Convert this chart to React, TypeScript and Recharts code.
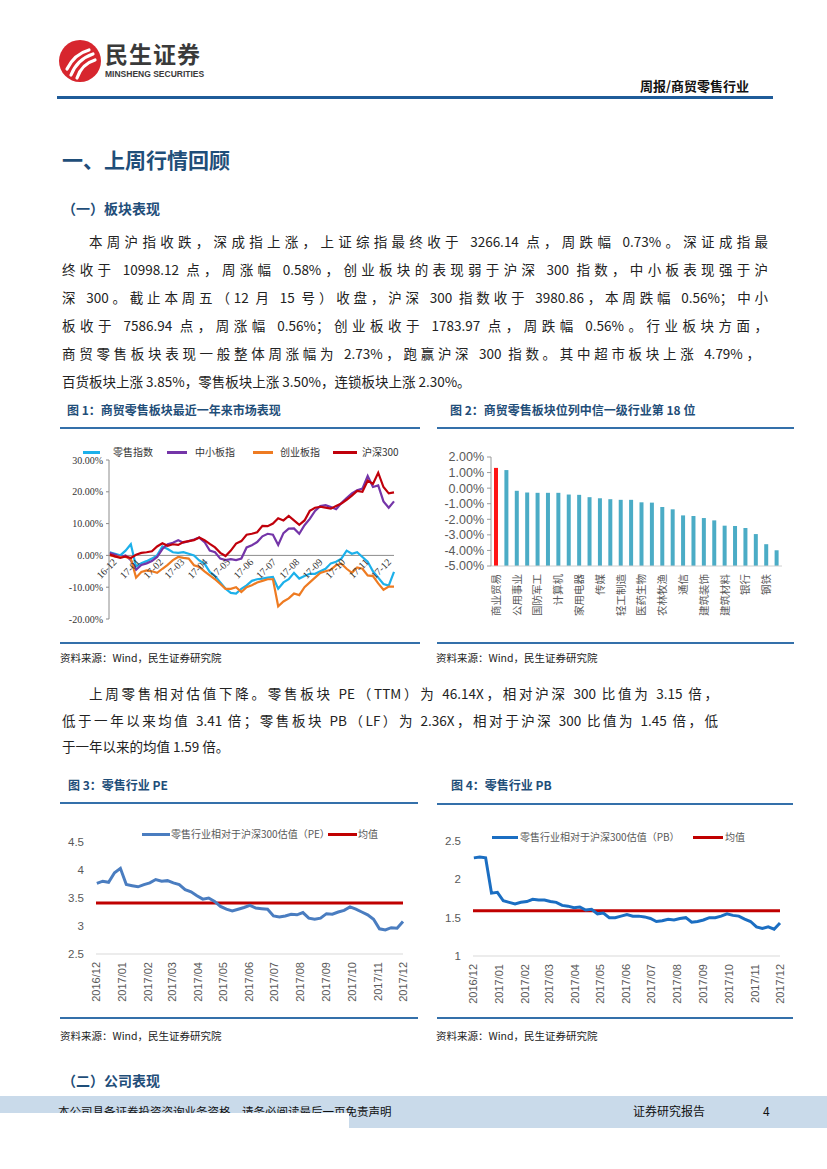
import React from 'react';
import { LineChart, Line, BarChart, Bar, Cell, XAxis, YAxis, ReferenceLine, ReferenceDot } from 'recharts';

const CJK = '"Noto Sans CJK SC", "Noto Sans", sans-serif';
const SERIF = '"Liberation Serif", "Noto Sans CJK SC", serif';
const SANS = '"Liberation Sans", Arial, "Noto Sans CJK SC", sans-serif';
const NAVY = '#1F4E79';
const RULE = '#3470AA';

// ---- 图1: 近一年走势 (weekly closes, % change since 2016-12) ----
const CH1_MONTHS = ['16-12', '17-01', '17-02', '17-03', '17-04', '17-05', '17-06', '17-07', '17-08', '17-09', '17-10', '17-11', '17-12'];
const RETAIL = [
  1.0, 0.5, 0, 1.5, 3.5, -3.5, -2.5, -1.8, -1.0, 0,
  2.8, 2.0, 1.0, 0.8, 1.0, 0.5, 0, -1.6, -2.6, -5.2,
  -6.5, -8.5, -10.5, -11.8, -12.0, -10.5, -9.4, -8.0,
  -7.5, -7.3, -7.0, -6.8, -10.5, -8.5, -7.5, -5.5, -7.3, -6.5,
  -5.8, -5.8, -5.0, -4.2, -2.5, -2.0, -1.0, 1.5, 0.5, 1.0,
  -0.5, -2.0, -5.0, -7.0, -9.0, -9.5, -5.2,
];
const MIDSMALL = [
  0.8, 0.3, -0.5, 0, -1.5, -4.5, -3.0, -2.5, -1.8, -0.5,
  2.0, 3.5, 4.0, 4.8, 4.0, 4.5, 5.0, 5.6, 4.2, 1.5,
  1.0, -1.0, -1.5, -1.2, -1.5, -1.0, 2.5, 3.2,
  4.2, 6.0, 6.8, 6.5, 3.3, 7.0, 8.4, 8.5, 6.8, 9.5,
  11.5, 14.0, 15.5, 15.8, 15.2, 14.5, 16.5, 18.0, 19.5, 20.5,
  21.0, 25.0, 21.5, 22.0, 17.0, 15.0, 17.0,
];
const CHINEXT = [
  0, -0.3, -0.5, -0.5, -1.0, -7.0, -5.2, -4.7, -5.0, -5.5,
  -4.2, -3.0, -1.5, -0.5, -0.8, -1.0, -3.1, -3.6, -5.0, -6.3,
  -7.5, -9.0, -10.5, -10.5, -10.0, -11.5, -10.0, -9.4,
  -8.5, -8.0, -7.5, -7.5, -16.0, -14.5, -13.5, -12.0, -12.5, -10.0,
  -8.5, -7.0, -5.5, -5.0, -4.5, -3.1, -2.6, -4.2, -5.5, -3.8,
  -4.2, -6.3, -6.5, -8.8, -10.8, -9.8, -9.8,
];
const HS300 = [
  0.3, -0.3, -0.8, -0.3, -0.8, 0.2, 0.8, 1.0, 1.3, 2.8,
  3.8, 3.0, 3.5, 3.3, 4.2, 4.5, 4.8, 5.6, 4.8, 3.6,
  2.5, 0.8, -0.2, 1.5, 3.7, 4.5, 6.5, 6.8,
  7.3, 9.3, 9.2, 10.0, 11.7, 11.0, 12.4, 11.0, 9.6, 11.0,
  14.0, 15.0, 15.3, 15.0, 14.7, 15.5, 16.3, 17.5, 18.8, 20.3,
  20.0, 23.5, 22.5, 26.0, 21.5, 19.5, 19.8,
];

// ---- 图2: 行业周涨跌幅 (%) ----
const IND_LABELS = [
  '商业贸易', '', '公用事业', '', '国防军工', '', '计算机', '', '家用电器', '', '传媒', '', '轻工制造', '',
  '医药生物', '', '农林牧渔', '', '通信', '', '建筑装饰', '', '建筑材料', '', '银行', '', '钢铁', '',
];
const IND_CHANGE = [
  1.30, 1.16, -0.17, -0.28, -0.30, -0.30, -0.30, -0.41, -0.43, -0.58, -0.65, -0.71, -0.75, -0.75,
  -0.91, -0.93, -1.21, -1.36, -1.75, -1.79, -1.92, -2.07, -2.41, -2.43, -2.56, -2.95, -3.60, -3.99,
];
const IND_FLOOR = -5; // bars rise from the axis minimum, as in the Excel original

// ---- 图3 / 图4: 相对沪深300估值 (weekly) ----
const VAL_MONTHS = ['2016/12', '2017/01', '2017/02', '2017/03', '2017/04', '2017/05', '2017/06', '2017/07', '2017/08', '2017/09', '2017/10', '2017/11', '2017/12'];
const PE_REL = [
  3.76, 3.80, 3.78, 3.95, 4.03, 3.74, 3.72, 3.70, 3.74, 3.77, 3.83, 3.80, 3.81,
  3.77, 3.74, 3.65, 3.61, 3.54, 3.48, 3.50, 3.44, 3.35, 3.30, 3.27, 3.30, 3.33, 3.37,
  3.32, 3.31, 3.30, 3.18, 3.16, 3.18, 3.21, 3.20, 3.24, 3.14, 3.12, 3.14,
  3.22, 3.21, 3.25, 3.28, 3.34, 3.30, 3.25, 3.20, 3.12, 2.95, 2.93, 2.97, 2.96, 3.08,
];
const PE_MEAN = 3.41;
const PB_REL = [
  2.28, 2.29, 2.28, 1.82, 1.83, 1.72, 1.70, 1.68, 1.70, 1.71, 1.74, 1.73, 1.73,
  1.71, 1.70, 1.66, 1.65, 1.63, 1.64, 1.60, 1.61, 1.55, 1.56, 1.50, 1.50, 1.52, 1.54,
  1.52, 1.52, 1.51, 1.49, 1.45, 1.46, 1.48, 1.47, 1.49, 1.50, 1.44, 1.45,
  1.47, 1.50, 1.50, 1.52, 1.55, 1.53, 1.52, 1.48, 1.45, 1.38, 1.36, 1.38, 1.35, 1.43,
];
const PB_MEAN = 1.59;

// weekly Fridays starting 2016-12-02
const fridays = (n: number) => Array.from({ length: n }, (_, i) => Date.UTC(2016, 11, 2 + 7 * i));
const monthStarts = (n: number) => Array.from({ length: n }, (_, k) => Date.UTC(2016, 11 + k, 1));

function Txt({ x, y, size = 13, weight = 400, color = '#222', font = CJK, children, style }: any) {
  return (
    <div
      style={{
        position: 'absolute', left: x, top: y - size * 0.6, lineHeight: `${size * 1.2}px`,
        fontSize: size, fontWeight: weight, color, fontFamily: font, whiteSpace: 'nowrap', ...style,
      }}
    >
      {children}
    </div>
  );
}

function Rule({ x, y, w, h = 2, color = RULE }: any) {
  return <div style={{ position: 'absolute', left: x, top: y - h / 2, width: w, height: h, background: color }} />;
}

function ParaLine({ x, y, right, last, children }: any) {
  return (
    <div
      lang="zh"
      style={{
        position: 'absolute', left: x, top: y - 10, width: right - x, lineHeight: '20px', fontSize: 13.5,
        fontFamily: CJK, color: '#222', whiteSpace: 'nowrap', textAlign: 'justify',
        textAlignLast: last ? 'left' : 'justify',
      }}
    >
      {children}
    </div>
  );
}

function LegendKey({ x, y, w, color, label, textX, size = 10, textColor = '#333', thick = 3 }: any) {
  return (
    <>
      <div style={{ position: 'absolute', left: x, top: y - thick / 2, width: w, height: thick, background: color }} />
      <Txt x={textX} y={y} size={size} color={textColor}>{label}</Txt>
    </>
  );
}

function MonthLabel({ cx, cy, label }: any) {
  if (cx == null || cy == null) return <g />;
  const ax = cx + 3;
  const ay = cy + 2;
  return (
    <text x={ax} y={ay} transform={`rotate(-45 ${ax} ${ay})`} textAnchor="end" dy="0.75em"
      fontSize={10} fontFamily={SERIF} fill="#333">
      {label}
    </text>
  );
}

function MarketChart() {
  const dates = fridays(RETAIL.length);
  const data = dates.map((t, i) => ({ t, retail: RETAIL[i], mid: MIDSMALL[i], gem: CHINEXT[i], hs: HS300[i] }));
  const ticks = monthStarts(CH1_MONTHS.length);
  return (
    <LineChart width={345} height={190} data={data} margin={{ top: 20, right: 11, bottom: 11, left: 0 }}>
      <XAxis type="number" dataKey="t" domain={[Date.UTC(2016, 11, 1), Date.UTC(2017, 11, 15)]} hide />
      <YAxis
        domain={[-20, 30]} ticks={[-20, -10, 0, 10, 20, 30]} interval={0} width={49}
        tickSize={3} tickMargin={3}
        axisLine={{ stroke: '#8c8c8c' }} tickLine={{ stroke: '#8c8c8c' }}
        tick={{ fontSize: 10, fill: '#333', fontFamily: SERIF }}
        tickFormatter={(v: number) => `${v.toFixed(2)}%`}
      />
      <ReferenceLine y={0} stroke="#8c8c8c" />
      {ticks.map((t, k) => (
        <ReferenceDot key={t} x={t} y={0} r={0} ifOverflow="visible"
          shape={(p: any) => <MonthLabel {...p} label={CH1_MONTHS[k]} />} />
      ))}
      <Line dataKey="retail" stroke="#1CB0EA" strokeWidth={2.2} dot={false} isAnimationActive={false} />
      <Line dataKey="mid" stroke="#7435A8" strokeWidth={2.2} dot={false} isAnimationActive={false} />
      <Line dataKey="gem" stroke="#EE7B22" strokeWidth={2.2} dot={false} isAnimationActive={false} />
      <Line dataKey="hs" stroke="#C0000B" strokeWidth={2.2} dot={false} isAnimationActive={false} />
    </LineChart>
  );
}

function IndustryTick({ x, y, payload }: any) {
  const label = IND_LABELS[payload.value];
  if (!label) return <g />;
  return (
    <text x={x} y={y} transform={`rotate(-90 ${x} ${y})`} textAnchor="end" dy="0.35em"
      fontSize={10.5} fontFamily={CJK} fill="#595959">
      {label}
    </text>
  );
}

function IndustryChart() {
  const data = IND_CHANGE.map((v, i) => ({ idx: i, span: [IND_FLOOR, v] }));
  return (
    <BarChart width={360} height={200} data={data} margin={{ top: 12, right: 8, bottom: 0, left: 0 }}>
      <XAxis dataKey="idx" interval={0} height={79} tickLine={false} axisLine={{ stroke: '#D0D0D0' }}
        tick={(p: any) => <IndustryTick {...p} />} />
      <YAxis
        domain={[-5, 2]} ticks={[-5, -4, -3, -2, -1, 0, 1, 2]} interval={0} width={61}
        tickSize={4} tickMargin={3}
        axisLine={{ stroke: '#9a9a9a' }} tickLine={{ stroke: '#9a9a9a' }}
        tick={{ fontSize: 12.5, fill: '#595959', fontFamily: SANS }}
        tickFormatter={(v: number) => `${v.toFixed(2)}%`}
      />
      <Bar dataKey="span" barSize={4} isAnimationActive={false}>
        {data.map((d) => (
          <Cell key={d.idx} fill={d.idx === 0 ? '#FF1414' : '#4BACC6'} />
        ))}
      </Bar>
    </BarChart>
  );
}

function ValTick({ x, y, index }: any) {
  return (
    <text x={x} y={y} transform={`rotate(-90 ${x} ${y})`} textAnchor="end" dy="0.35em"
      fontSize={11} fontFamily={SANS} fill="#595959">
      {VAL_MONTHS[index]}
    </text>
  );
}

function ValuationChart({ values, mean, domain, ticks, color, margin, yWidth, xHeight }: any) {
  const dates = fridays(values.length);
  const data = dates.map((t, i) => ({ t, v: values[i] }));
  return (
    <LineChart width={360} height={200} data={data} margin={margin}>
      <XAxis type="number" dataKey="t" domain={[Date.UTC(2016, 11, 1), Date.UTC(2017, 11, 1)]}
        ticks={monthStarts(VAL_MONTHS.length)} interval={0} height={xHeight}
        tickLine={false} axisLine={{ stroke: '#D9D9D9' }} tick={(p: any) => <ValTick {...p} />} />
      <YAxis domain={domain} ticks={ticks} interval={0} width={yWidth} axisLine={false} tickLine={false}
        tickSize={0} tickMargin={12} tick={{ fontSize: 11.5, fill: '#595959', fontFamily: SANS }} />
      <ReferenceLine y={mean} stroke="#C00000" strokeWidth={3} />
      <Line dataKey="v" stroke={color} strokeWidth={3} dot={false} isAnimationActive={false} />
    </LineChart>
  );
}

function Logo() {
  return (
    <svg style={{ position: 'absolute', left: 58, top: 39 }} width={44} height={44} viewBox="0 0 44 44">
      <circle cx={22} cy={22} r={21} fill="#D7262E" />
      <path d="M9 30 C 14 20, 20 14, 31 11" stroke="#fff" strokeWidth={3.2} fill="none" strokeLinecap="round" />
      <path d="M13 36 C 17 26, 23 19, 35 15" stroke="#fff" strokeWidth={3.2} fill="none" strokeLinecap="round" />
      <path d="M19 39 C 22 30, 27 24, 37 21" stroke="#fff" strokeWidth={3.2} fill="none" strokeLinecap="round" />
    </svg>
  );
}

export default function App() {
  return (
    <div style={{ position: 'absolute', left: 0, top: 0, width: 827, height: 1169, background: '#fff', overflow: 'hidden', fontFamily: CJK }}>
      <Logo />
      <Txt x={105} y={54} size={23} weight={700} color="#3a3a3a" style={{ letterSpacing: 1 }}>民生证券</Txt>
      <Txt x={105} y={74} size={8.5} weight={700} color="#3a3a3a" font={SANS}>MINSHENG SECURITIES</Txt>
      <Txt x={640} y={86} size={13} weight={700} color="#111">周报/商贸零售行业</Txt>
      <Rule x={57} y={97} w={716} h={3} color="#1F5C99" />

      <Txt x={62} y={160} size={21} weight={700} color={NAVY}>一、上周行情回顾</Txt>
      <Txt x={62} y={208} size={14} weight={700} color={NAVY}>（一）板块表现</Txt>

      <ParaLine x={89} y={241} right={768}>本周沪指收跌，深成指上涨，上证综指最终收于 3266.14 点，周跌幅 0.73%。深证成指最</ParaLine>
      <ParaLine x={62} y={269} right={768}>终收于 10998.12 点，周涨幅 0.58%，创业板块的表现弱于沪深 300 指数，中小板表现强于沪</ParaLine>
      <ParaLine x={62} y={297} right={768}>深 300。截止本周五（12 月 15 号）收盘，沪深 300 指数收于 3980.86，本周跌幅 0.56%；中小</ParaLine>
      <ParaLine x={62} y={325} right={768}>板收于 7586.94 点，周涨幅 0.56%；创业板收于 1783.97 点，周跌幅 0.56%。行业板块方面，</ParaLine>
      <ParaLine x={62} y={353} right={760}>商贸零售板块表现一般整体周涨幅为 2.73%，跑赢沪深 300 指数。其中超市板块上涨 4.79%，</ParaLine>
      <ParaLine x={62} y={381} right={768} last>百货板块上涨 3.85%，零售板块上涨 3.50%，连锁板块上涨 2.30%。</ParaLine>

      {/* 图1 */}
      <Txt x={67} y={410} size={12} weight={700} color={NAVY}>图 1：商贸零售板块最近一年来市场表现</Txt>
      <Rule x={60} y={428} w={360} />
      <div style={{ position: 'absolute', left: 60, top: 440 }}><MarketChart /></div>
      <LegendKey x={83} y={452} w={17} color="#1CB0EA" label="零售指数" textX={113} />
      <LegendKey x={167} y={452} w={20} color="#7435A8" label="中小板指" textX={195} />
      <LegendKey x={253} y={452} w={20} color="#EE7B22" label="创业板指" textX={280} />
      <LegendKey x={333} y={452} w={24} color="#C0000B" label="沪深300" textX={362} />
      <Rule x={60} y={643} w={360} />
      <Txt x={60} y={658} size={10.5} color="#222">资料来源：Wind，民生证券研究院</Txt>

      {/* 图2 */}
      <Txt x={450} y={410} size={12} weight={700} color={NAVY}>图 2：商贸零售板块位列中信一级行业第 18 位</Txt>
      <Rule x={437} y={428} w={357} />
      <div style={{ position: 'absolute', left: 430, top: 445 }}><IndustryChart /></div>
      <Rule x={437} y={643} w={357} />
      <Txt x={436} y={658} size={10.5} color="#222">资料来源：Wind，民生证券研究院</Txt>

      <ParaLine x={89} y={693} right={718}>上周零售相对估值下降。零售板块 PE（TTM）为 46.14X，相对沪深 300 比值为 3.15 倍，</ParaLine>
      <ParaLine x={62} y={720} right={718}>低于一年以来均值 3.41 倍；零售板块 PB（LF）为 2.36X，相对于沪深 300 比值为 1.45 倍，低</ParaLine>
      <ParaLine x={62} y={746} right={718} last>于一年以来的均值 1.59 倍。</ParaLine>

      {/* 图3 */}
      <Txt x={68} y={785} size={12} weight={700} color={NAVY}>图 3：零售行业 PE</Txt>
      <Rule x={60} y={803} w={358} />
      <div style={{ position: 'absolute', left: 60, top: 825 }}>
        <ValuationChart values={PE_REL} mean={PE_MEAN} domain={[2.5, 4.5]} ticks={[2.5, 3, 3.5, 4, 4.5]}
          color="#4A7DC0" margin={{ top: 17, right: 17, bottom: 0, left: 0 }} yWidth={36} xHeight={71} />
      </div>
      <LegendKey x={142} y={834} w={28} color="#4A7DC0" label="零售行业相对于沪深300估值（PE）" textX={171} textColor="#595959" />
      <LegendKey x={328} y={834} w={29} color="#C00000" label="均值" textX={358} textColor="#595959" />
      <Rule x={60} y={1018} w={358} />
      <Txt x={60} y={1036} size={10.5} color="#222">资料来源：Wind，民生证券研究院</Txt>

      {/* 图4 */}
      <Txt x={451} y={785} size={12} weight={700} color={NAVY}>图 4：零售行业 PB</Txt>
      <Rule x={437} y={804} w={356} />
      <div style={{ position: 'absolute', left: 430, top: 825 }}>
        <ValuationChart values={PB_REL} mean={PB_MEAN} domain={[1, 2.5]} ticks={[1, 1.5, 2, 2.5]}
          color="#1B6EC2" margin={{ top: 16, right: 10, bottom: 0, left: 0 }} yWidth={43} xHeight={69} />
      </div>
      <LegendKey x={492} y={837} w={26} color="#1B6EC2" label="零售行业相对于沪深300估值（PB）" textX={520} textColor="#595959" />
      <LegendKey x={693} y={837} w={30} color="#C00000" label="均值" textX={725} textColor="#595959" />
      <Rule x={437} y={1018} w={356} />
      <Txt x={436} y={1036} size={10.5} color="#222">资料来源：Wind，民生证券研究院</Txt>

      <Txt x={62} y={1080} size={14} weight={700} color={NAVY}>（二）公司表现</Txt>

      {/* footer */}
      <div style={{ position: 'absolute', left: 0, top: 1096, width: 827, height: 32, background: '#C9DAEA' }} />
      <Txt x={58} y={1112} size={11.5} color="#111">本公司具备证券投资咨询业务资格，请务必阅读最后一页免责声明</Txt>
      <div style={{ position: 'absolute', left: 0, top: 1113, width: 349, height: 20, background: '#fff' }} />
      <Txt x={633} y={1111} size={12} color="#111">证券研究报告</Txt>
      <Txt x={763} y={1111} size={12} color="#111">4</Txt>
    </div>
  );
}
